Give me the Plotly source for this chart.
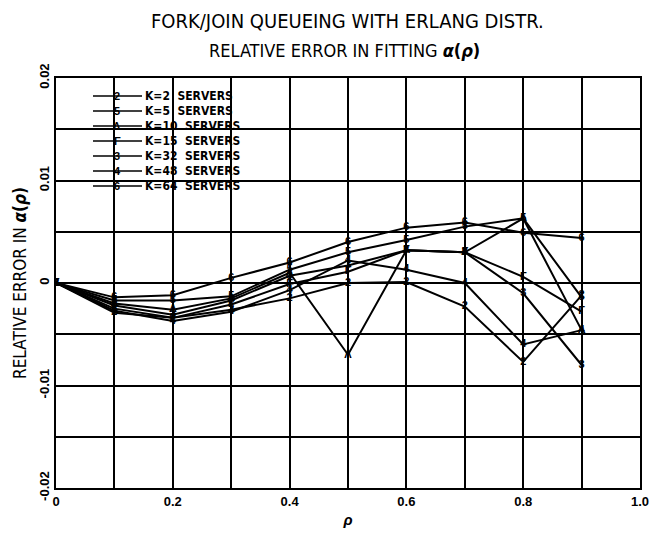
import plotly.graph_objects as go

rho = [0.0, 0.1, 0.2, 0.3, 0.4, 0.5, 0.6, 0.7, 0.8, 0.9]

series_names = ["K=2", "K=5", "K=10", "K=15", "K=32", "K=48", "K=64"]
series_marks = ["2", "5", "Λ", "Γ", "3", "4", "6"]

err_k2 = [0, -0.0029, -0.0034, -0.0026, -0.0015, 0.0000, 0.0001, -0.0023, -0.0077, -0.0012]
err_k5 = [0, -0.0017, -0.0017, -0.0013, 0.0013, 0.0030, 0.0042, 0.0055, 0.0063, -0.0014]
err_k10 = [0, -0.0020, -0.0026, -0.0015, 0.0010, -0.0070, 0.0032, 0.0030, 0.0063, -0.0046]
err_k15 = [0, -0.0025, -0.0034, -0.0021, -0.0001, 0.0011, 0.0032, 0.0030, 0.0006, -0.0028]
err_k32 = [0, -0.0022, -0.0031, -0.0017, 0.0007, 0.0017, 0.0032, 0.0030, -0.0010, -0.0080]
err_k48 = [0, -0.0027, -0.0037, -0.0028, -0.0007, 0.0022, 0.0013, 0.0000, -0.0060, -0.0046]
err_k64 = [0, -0.0014, -0.0012, 0.0005, 0.0020, 0.0040, 0.0054, 0.0059, 0.0049, 0.0044]

all_series = [err_k2, err_k5, err_k10, err_k15, err_k32, err_k48, err_k64]

x_tickvals = [0, 0.1, 0.2, 0.3, 0.4, 0.5, 0.6, 0.7, 0.8, 0.9, 1.0]
x_ticktext = ["0", "", "0.2", "", "0.4", "", "0.6", "", "0.8", "", "1.0"]
y_tickvals = [-0.02, -0.015, -0.01, -0.005, 0, 0.005, 0.01, 0.015, 0.02]
y_ticktext = ["-0.02", "", "-0.01", "", "0", "", "0.01", "", "0.02"]

TITLE_FONT = "DejaVu Sans Condensed"
TICK_FONT = "Liberation Sans"

# page body has an 8px default margin; lay the figure out in page pixels
OFF = 8
FIG_W = 665 - 2 * OFF
FIG_H = 536 - 2 * OFF
L = 56 - OFF
W = 584
T = 78 - OFF
H = 410

def px_x(p):
    return (p - OFF - L) / W

def px_y(p):
    return (T + H - (p - OFF)) / H

fig = go.Figure()
for name, mark, vals in zip(series_names, series_marks, all_series):
    fig.add_trace(go.Scatter(
        x=rho, y=vals, mode="lines+text", name=name,
        text=[mark] * len(rho), textposition="middle center",
        textfont=dict(family=TICK_FONT, size=11, color="black", weight="bold"),
        line=dict(color="black", width=2),
        showlegend=False,
    ))

legend_rows = [96, 111, 126, 141, 156, 171, 186]
shapes = []
annotations = []
for row, name, mark in zip(legend_rows, series_names, series_marks):
    shapes.append(dict(type="line", xref="paper", yref="paper",
                       x0=px_x(93), x1=px_x(142), y0=px_y(row), y1=px_y(row),
                       line=dict(color="black", width=1.5)))
    annotations.append(dict(xref="paper", yref="paper", x=px_x(117), y=px_y(row),
                            text=mark, showarrow=False, xanchor="center", yanchor="middle",
                            borderpad=0,
                            font=dict(family=TICK_FONT, size=11, color="black", weight="bold")))
    annotations.append(dict(xref="paper", yref="paper", x=px_x(144), y=px_y(row),
                            text=name + "  SERVERS", showarrow=False, xanchor="left", yanchor="middle",
                            borderpad=0,
                            font=dict(family=TITLE_FONT, size=12, color="black", weight="bold")))

annotations.append(dict(xref="paper", yref="paper", x=px_x(344), y=px_y(51),
                        text="RELATIVE ERROR IN FITTING <b><i>α</i>(<i>ρ</i>)</b>", showarrow=False,
                        xanchor="center", yanchor="middle",
                        font=dict(family=TITLE_FONT, size=18, color="black")))
annotations.append(dict(xref="paper", yref="paper", x=px_x(347), y=px_y(21),
                        text="FORK/JOIN QUEUEING WITH ERLANG DISTR.", showarrow=False,
                        xanchor="center", yanchor="middle",
                        font=dict(family=TITLE_FONT, size=20, color="black")))

fig.update_layout(
    width=FIG_W, height=FIG_H,
    margin=dict(l=L, r=FIG_W - L - W, t=T, b=FIG_H - T - H, autoexpand=False),
    paper_bgcolor="white", plot_bgcolor="white",
    shapes=shapes,
    annotations=annotations,
    xaxis=dict(range=[0, 1], tickvals=x_tickvals, ticktext=x_ticktext,
               showgrid=True, gridcolor="black", gridwidth=1.5,
               showline=True, linecolor="black", linewidth=2, mirror=True,
               zeroline=False, ticks="", automargin=False,
               tickfont=dict(family=TICK_FONT, size=13, color="black", weight="bold"),
               title=dict(text="<b><i>ρ</i></b>", standoff=10,
                          font=dict(family=TICK_FONT, size=15, color="black"))),
    yaxis=dict(range=[-0.02, 0.02], tickvals=y_tickvals, ticktext=y_ticktext,
               showgrid=True, gridcolor="black", gridwidth=1.5,
               showline=True, linecolor="black", linewidth=2, mirror=True,
               zeroline=False, ticks="", tickangle=-90, automargin=False,
               tickfont=dict(family=TICK_FONT, size=13, color="black", weight="bold"),
               title=dict(text="RELATIVE ERROR IN <b><i>α</i>(<i>ρ</i>)</b>", standoff=6,
                          font=dict(family=TITLE_FONT, size=17, color="black"))),
)

fig.write_html("out.html")
